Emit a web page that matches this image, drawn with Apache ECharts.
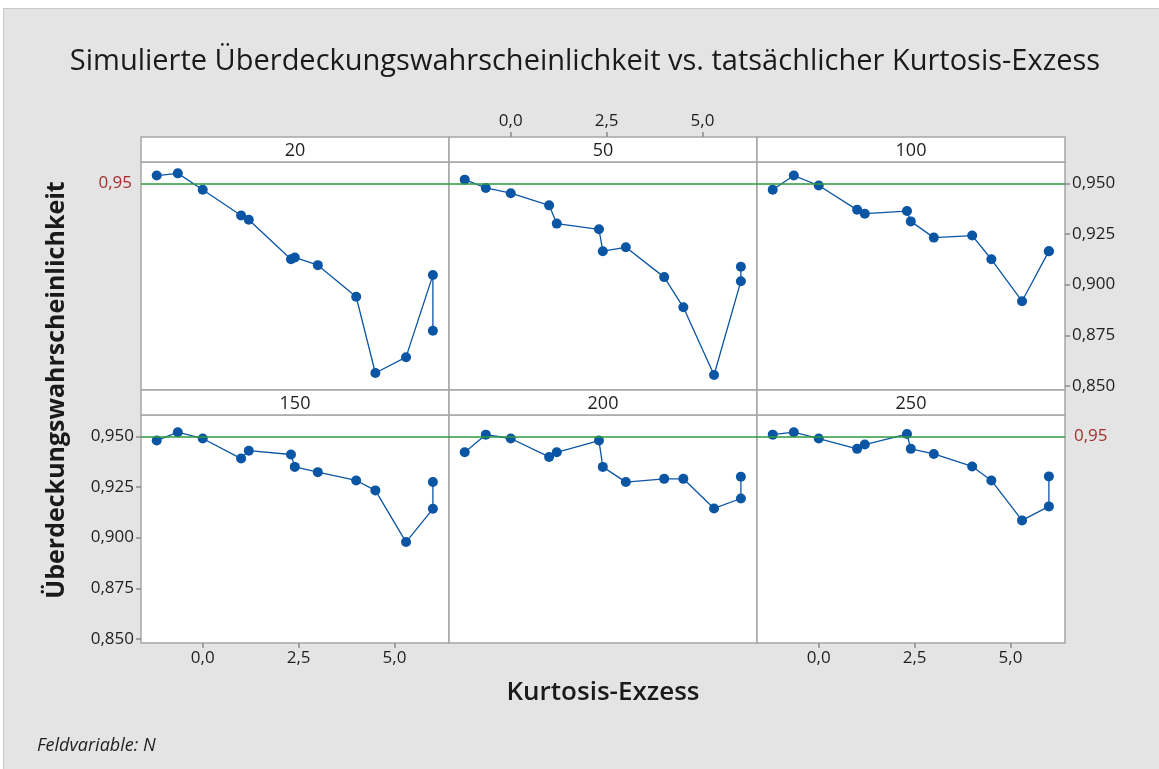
<!DOCTYPE html>
<html>
<head>
<meta charset="utf-8">
<script src="https://cdn.jsdelivr.net/npm/echarts@6/dist/echarts.min.js"></script>
<style>
  body { margin: 0; background: #ffffff; }
  #chart {
    position: absolute; left: 3px; top: 8px;
    width: 1156px; height: 761px;
    border-left: 1px solid #c8c8c8; border-top: 1px solid #c8c8c8;
  }
</style>
</head>
<body>
<div id="chart"></div>
<script>
// Kurtosis excess of the simulated distributions (x axis, shared by all panels)
const kurtosis = [-1.2, -0.65, 0.0, 1.0, 1.2, 2.3, 2.4, 3.0, 4.0, 4.5, 5.3, 6.0, 6.0];

// simulated coverage probability per sample size N
const cov20  = [0.9538, 0.9549, 0.9468, 0.9341, 0.9320, 0.9125, 0.9134, 0.9096, 0.8940, 0.8564, 0.8642, 0.9047, 0.8772];
const cov50  = [0.9518, 0.9477, 0.9451, 0.9391, 0.9301, 0.9273, 0.9165, 0.9184, 0.9037, 0.8888, 0.8554, 0.9017, 0.9088];
const cov100 = [0.9468, 0.9538, 0.9489, 0.9369, 0.9350, 0.9363, 0.9312, 0.9232, 0.9242, 0.9125, 0.8918, 0.9165, 0.9165];
const cov150 = [0.9479, 0.9520, 0.9489, 0.9390, 0.9429, 0.9410, 0.9349, 0.9323, 0.9282, 0.9233, 0.8978, 0.9142, 0.9274];
const cov200 = [0.9421, 0.9508, 0.9489, 0.9398, 0.9421, 0.9479, 0.9349, 0.9274, 0.9290, 0.9290, 0.9144, 0.9193, 0.9300];
const cov250 = [0.9508, 0.9520, 0.9489, 0.9438, 0.9459, 0.9511, 0.9438, 0.9413, 0.9351, 0.9282, 0.9085, 0.9154, 0.9302];

const panelNames  = ['20', '50', '100', '150', '200', '250'];
const panelValues = [cov20, cov50, cov100, cov150, cov200, cov250];

const xTicks   = [0, 2.5, 5];
const yTicks   = [0.85, 0.875, 0.9, 0.925, 0.95];
const refLevel = 0.95;

// layout (chart coordinates)
const gridLeft = 137, gridW = 308, gridH = 228, headH = 25;
const rowTops  = [153, 406];
const xMin = -1.61, xMax = 6.42, yMin = 0.848, yMax = 0.9605;

const FONT      = '"Open Sans", "Noto Sans", sans-serif';
const TXT       = '#1f1f1f';
const BORDER    = '#a6a6a6';
const BLUE      = '#0b55a5';
const GREEN     = '#2e9a3e';
const REF_RED   = '#a3302e';

const comma = (v, d) => v.toFixed(d).replace('.', ',');

const grids = [], xAxes = [], yAxes = [], series = [], graphics = [];

panelNames.forEach((name, i) => {
  const col = i % 3, row = Math.floor(i / 3);
  const left = gridLeft + col * gridW;
  const top  = rowTops[row];

  grids.push({
    left: left, top: top, width: gridW, height: gridH,
    show: true, backgroundColor: '#ffffff', borderColor: BORDER, borderWidth: 1.5
  });

  // which panels carry axis labels (Minitab style alternating axes)
  const xTop    = i === 1;
  const xBottom = i === 3 || i === 5;
  const yLeft   = i === 3;
  const yRight  = i === 2;

  xAxes.push({
    type: 'value', gridIndex: i, min: xMin, max: xMax,
    position: xTop ? 'top' : 'bottom',
    offset: xTop ? headH : 0,
    axisLine: { show: false, onZero: false },
    splitLine: { show: false },
    axisTick: {
      show: xTop || xBottom, length: 5, customValues: xTicks,
      lineStyle: { color: '#8c8c8c', width: 1.5 }
    },
    axisLabel: {
      show: xTop || xBottom, customValues: xTicks, margin: 7,
      color: TXT, fontFamily: FONT, fontSize: 17,
      formatter: v => comma(v, 1)
    }
  });

  yAxes.push({
    type: 'value', gridIndex: i, min: yMin, max: yMax,
    position: yRight ? 'right' : 'left',
    axisLine: { show: false, onZero: false },
    splitLine: { show: false },
    axisTick: {
      show: yLeft || yRight, length: 5, customValues: yTicks,
      lineStyle: { color: '#8c8c8c', width: 1.5 }
    },
    axisLabel: {
      show: yLeft || yRight, customValues: yTicks, margin: 7,
      color: TXT, fontFamily: FONT, fontSize: 17,
      formatter: v => comma(v, 3)
    }
  });

  const showRef = i === 0 || i === 5;
  series.push({
    type: 'line', xAxisIndex: i, yAxisIndex: i,
    data: kurtosis.map((k, j) => [k, panelValues[i][j]]),
    symbol: 'circle', symbolSize: 10,
    itemStyle: { color: BLUE },
    lineStyle: { color: BLUE, width: 1.3 },
    animation: false,
    markLine: {
      silent: true, symbol: ['none', 'none'], animation: false,
      lineStyle: { color: GREEN, width: 1.5, type: 'solid' },
      label: {
        show: showRef, position: i === 0 ? 'start' : 'end', distance: 9,
        formatter: comma(refLevel, 2), color: REF_RED, fontFamily: FONT, fontSize: 17
      },
      data: [{ yAxis: refLevel }]
    }
  });

  // panel header strip with N
  graphics.push({
    type: 'rect', silent: true,
    shape: { x: left, y: top - headH, width: gridW, height: headH },
    style: { fill: '#ffffff', stroke: BORDER, lineWidth: 1.5 }
  });
  graphics.push({
    type: 'text', silent: true,
    x: left + gridW / 2, y: top - headH / 2 + 1,
    style: {
      text: name, align: 'center', verticalAlign: 'middle',
      fill: TXT, font: '18px ' + FONT
    }
  });
});

// titles
graphics.push({
  type: 'text', x: 581, y: 53,
  style: {
    text: 'Simulierte Überdeckungswahrscheinlichkeit vs. tatsächlicher Kurtosis-Exzess',
    align: 'center', verticalAlign: 'middle', fill: '#1a1a1a', font: '29px ' + FONT
  }
});
graphics.push({
  type: 'text', x: 53, y: 381, rotation: Math.PI / 2,
  style: {
    text: 'Überdeckungswahrscheinlichkeit',
    align: 'center', verticalAlign: 'middle', fill: '#1a1a1a', font: 'bold 25px ' + FONT
  }
});
graphics.push({
  type: 'text', x: 599, y: 684,
  style: {
    text: 'Kurtosis-Exzess',
    align: 'center', verticalAlign: 'middle', fill: '#1a1a1a', font: '600 26px ' + FONT
  }
});
graphics.push({
  type: 'text', x: 33, y: 737,
  style: {
    text: 'Feldvariable: N',
    align: 'left', verticalAlign: 'middle', fill: TXT, font: 'italic 18px ' + FONT
  }
});

const chart = echarts.init(document.getElementById('chart'));
chart.setOption({
  animation: false,
  backgroundColor: '#e4e4e4',
  grid: grids,
  xAxis: xAxes,
  yAxis: yAxes,
  series: series,
  graphic: graphics
});
window.addEventListener('resize', () => chart.resize());
</script>
</body>
</html>
